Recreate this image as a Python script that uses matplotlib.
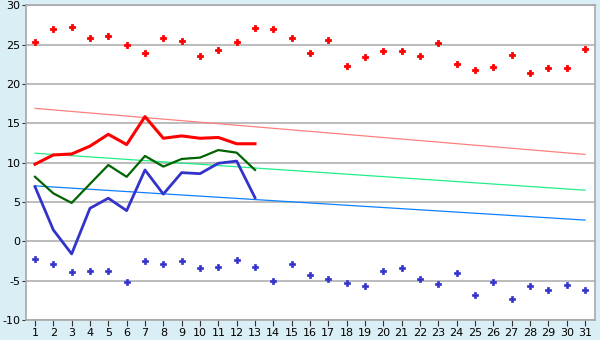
import matplotlib
matplotlib.use("Agg")
import matplotlib.pyplot as plt

plt.rcParams["axes.unicode_minus"] = False

days = list(range(1, 32))

record_max = [25.3, 26.95, 27.2, 25.8, 26.1, 24.9, 23.9, 25.9, 25.4, 23.6, 24.3, 25.3, 27.1, 26.95, 25.8,
              23.9, 25.55, 22.25, 23.4, 24.15, 24.15, 23.5, 25.2, 22.5, 21.75, 22.1, 23.65, 21.35, 22.0, 22.0, 24.4]
record_min = [-2.27, -2.9, -3.93, -3.76, -3.76, -5.2, -2.53, -2.9, -2.53, -3.4, -3.3, -2.4, -3.3, -5.07, -2.9,
              -4.3, -4.8, -5.3, -5.7, -3.8, -3.4, -4.8, -5.45, -4.05, -6.85, -5.2, -7.36, -5.7, -6.2, -5.6, -6.2]

obs_days = list(range(1, 14))
obs_max = [9.8, 10.98, 11.1, 12.1, 13.6, 12.3, 15.85, 13.1, 13.4, 13.1, 13.2, 12.4, 12.4]
obs_mean = [8.2, 6.1, 4.88, 7.3, 9.7, 8.2, 10.85, 9.5, 10.47, 10.64, 11.6, 11.27, 9.07]
obs_min = [6.95, 1.45, -1.6, 4.2, 5.48, 3.9, 9.07, 6.0, 8.73, 8.6, 9.92, 10.2, 5.55]

trend_days = [1, 31]
norm_max = [16.9, 11.05]
norm_mean = [11.2, 6.5]
norm_min = [7.05, 2.7]

bg = "#d9eef5"
fig = plt.figure(figsize=(6, 3.4), dpi=100, facecolor=bg)
ax = fig.add_axes([26/600, 1-320/340, (595.3-26)/600, (320-5.3)/340])
ax.set_facecolor("white")

ax.set_ylim(-10, 30)
ax.set_xlim(0.51, 31.56)
ax.set_yticks(range(-10, 31, 5))
ax.set_xticks(days)
ax.grid(axis="y", color="#b0b0b0", linewidth=1.2)
ax.set_axisbelow(True)
for s in ax.spines.values():
    s.set_color("#a8a8a8")
    s.set_linewidth(1.2)
ax.tick_params(axis="x", length=4, color="#333333", labelsize=8, pad=2)
ax.tick_params(axis="y", length=3, color="#333333", labelsize=8, pad=1)

ax.plot(trend_days, norm_max, color="#ff8080", lw=0.9)
ax.plot(trend_days, norm_mean, color="#22ee88", lw=0.9)
ax.plot(trend_days, norm_min, color="#1080ff", lw=0.9)

ax.plot(obs_days, obs_max, color="#ff0000", lw=2.2)
ax.plot(obs_days, obs_mean, color="#006400", lw=1.6)
ax.plot(obs_days, obs_min, color="#3333cc", lw=2.0)

ax.plot(days, record_max, linestyle="none", marker="P", markersize=5, color="#ff0000",
        markeredgecolor="#ff0000", markeredgewidth=0.6)
ax.plot(days, record_min, linestyle="none", marker="P", markersize=4, color="#3333cc",
        markeredgecolor="#3333cc", markeredgewidth=0.5)

fig.savefig("out.png", dpi=100, facecolor=bg)
